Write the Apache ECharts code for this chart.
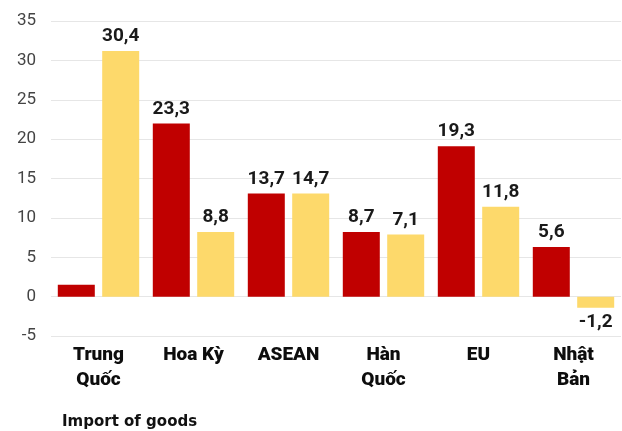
<!DOCTYPE html>
<html>
<head>
<meta charset="utf-8">
<script src="https://cdn.jsdelivr.net/npm/echarts@6/dist/echarts.min.js"></script>
<style>
html,body{margin:0;padding:0;background:#fff;}
#chart{width:622px;height:431px;}
</style>
</head>
<body>
<div id="chart"></div>
<script>
// Categories (x-axis tick labels)
var categories = ["Trung\nQuốc", "Hoa Kỳ", "ASEAN", "Hàn\nQuốc", "EU", "Nhật\nBản"];
// Bar heights as drawn in the picture
var seriesRed = [1.5, 22.0, 13.1, 8.2, 19.1, 6.3];
var seriesYellow = [31.2, 8.2, 13.1, 7.9, 11.4, -1.4];
// Value labels printed above the bars
var labelsRed = [null, "23,3", "13,7", "8,7", "19,3", "5,6"];
var labelsYellow = ["30,4", "8,8", "14,7", "7,1", "11,8", "-1,2"];
// Y-axis ticks
var yMin = -5, yMax = 35, yStep = 5;
var titleText = "Import of goods";

var chart = echarts.init(document.getElementById('chart'), null, {renderer: 'canvas'});

function labelStyle(texts) {
  return {
    show: true,
    position: 'top',
    distance: 5,
    fontFamily: 'Roboto',
    fontWeight: 'bold',
    fontSize: 19,
    color: '#1a1a1a',
    formatter: function (p) { return texts[p.dataIndex] == null ? '' : texts[p.dataIndex]; }
  };
}

function buildData(vals) {
  return vals.map(function (v) {
    var d = {value: v};
    if (v < 0) d.label = {position: 'bottom'};
    return d;
  });
}

chart.setOption({
  animation: false,
  backgroundColor: '#ffffff',
  title: {
    text: titleText,
    left: 57,
    top: 410,
    textStyle: {fontFamily: 'DejaVu Sans', fontWeight: 'bold', fontSize: 15, color: '#111'}
  },
  grid: {left: 51, right: 1, top: 21, bottom: 95},
  xAxis: {
    type: 'category',
    data: categories,
    axisLine: {show: false},
    axisTick: {show: false},
    axisLabel: {
      margin: 7,
      interval: 0,
      fontFamily: 'Roboto',
      fontWeight: 900,
      fontSize: 19,
      lineHeight: 25,
      color: '#0d0d0d'
    }
  },
  yAxis: {
    type: 'value',
    min: yMin,
    max: yMax,
    interval: yStep,
    axisLine: {show: false},
    axisTick: {show: false},
    axisLabel: {margin: 15, fontFamily: 'Roboto', fontSize: 17, color: '#444'},
    splitLine: {lineStyle: {color: '#e6e6e6', width: 1}}
  },
  series: [
    {
      type: 'bar',
      data: buildData(seriesRed),
      barWidth: 37,
      barGap: '20%',
      itemStyle: {color: '#c00000'},
      label: labelStyle(labelsRed)
    },
    {
      type: 'bar',
      data: buildData(seriesYellow),
      barWidth: 37,
      barGap: '20%',
      itemStyle: {color: '#fdd96b'},
      label: labelStyle(labelsYellow)
    }
  ]
});
</script>
</body>
</html>
